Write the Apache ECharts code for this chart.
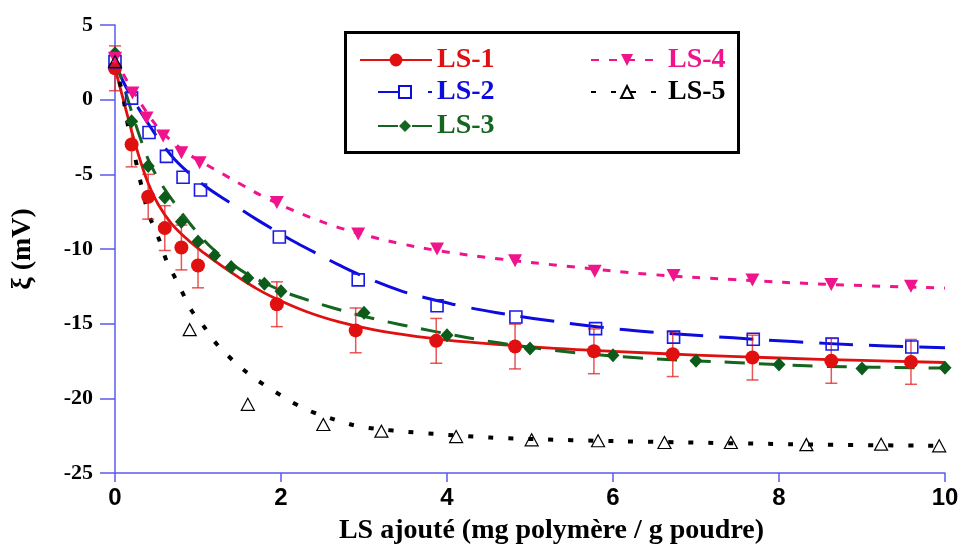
<!DOCTYPE html>
<html>
<head>
<meta charset="utf-8">
<script src="https://cdn.jsdelivr.net/npm/echarts@6/dist/echarts.min.js"></script>
<style>
  html, body { margin: 0; padding: 0; background: #fff; }
  #chart { width: 962px; height: 550px; }
</style>
</head>
<body>
<div id="chart"></div>
<script>
// ---- Measured points (zeta potential, mV) ----
const ls1X = [0, 0.2, 0.4, 0.6, 0.8, 1.0, 1.95, 2.9, 3.87, 4.82, 5.77, 6.72, 7.68, 8.63, 9.59];
const ls1Y = [2.1, -3.0, -6.5, -8.6, -9.9, -11.1, -13.7, -15.45, -16.15, -16.53, -16.85, -17.04, -17.27, -17.49, -17.56];
const ls1Err = [1.5, 1.5, 1.5, 1.5, 1.5, 1.5, 1.5, 1.5, 1.5, 1.5, 1.5, 1.5, 1.5, 1.5, 1.5];

const ls2X = [0, 0.2, 0.41, 0.62, 0.82, 1.03, 1.98, 2.93, 3.88, 4.83, 5.79, 6.73, 7.69, 8.64, 9.6];
const ls2Y = [2.55, 0.1, -2.2, -3.8, -5.2, -6.05, -9.2, -12.07, -13.8, -14.55, -15.33, -15.9, -16.04, -16.36, -16.56];

const ls3X = [0, 0.2, 0.4, 0.6, 0.8, 1.0, 1.2, 1.4, 1.6, 1.8, 2.0, 3.0, 4.0, 5.0, 6.0, 7.0, 8.0, 9.0, 10.0];
const ls3Y = [3.1, -1.45, -4.45, -6.55, -8.18, -9.5, -10.44, -11.2, -11.95, -12.33, -12.83, -14.27, -15.78, -16.67, -17.11, -17.49, -17.73, -18.0, -17.96];

const ls4X = [0, 0.21, 0.38, 0.58, 0.8, 1.02, 1.95, 2.93, 3.88, 4.82, 5.78, 6.73, 7.68, 8.63, 9.59];
const ls4Y = [2.78, 0.45, -1.22, -2.44, -3.56, -4.22, -6.89, -9.0, -10.0, -10.78, -11.49, -11.78, -12.07, -12.38, -12.49];

const ls5X = [0, 0.9, 1.6, 2.51, 3.21, 4.11, 5.02, 5.82, 6.62, 7.42, 8.33, 9.23, 9.93];
const ls5Y = [2.55, -15.4, -20.4, -21.75, -22.2, -22.56, -22.78, -22.84, -22.96, -22.96, -23.1, -23.07, -23.18];

// ---- Fitted curves ----
const fit1X = [0, 0.1, 0.2, 0.3, 0.4, 0.52, 0.68, 0.88, 1.08, 1.29, 1.49, 1.69, 1.91, 2.31, 2.71, 3.11, 3.5, 4.0, 4.64, 5.3, 6.0, 7.0, 8.0, 9.0, 10.0];
const fit1Y = [2.1, 0.0, -2.1, -4.0, -5.6, -7.0, -8.3, -9.4, -10.3, -11.15, -11.9, -12.6, -13.25, -14.2, -14.9, -15.4, -15.75, -16.1, -16.4, -16.65, -16.85, -17.1, -17.3, -17.46, -17.6];

const fit2X = [0, 0.1, 0.22, 0.4, 0.56, 0.72, 0.9, 1.1, 1.33, 1.53, 1.7, 1.91, 2.19, 2.5, 2.69, 3.0, 3.47, 3.92, 4.24, 4.64, 5.04, 5.8, 6.45, 7.45, 8.17, 8.95, 10];
const fit2Y = [2.5, 1.2, 0.0, -1.6, -2.9, -4.0, -4.95, -5.85, -6.7, -7.4, -8.0, -8.7, -9.6, -10.5, -11.05, -11.85, -12.85, -13.5, -13.9, -14.3, -14.65, -15.2, -15.55, -15.95, -16.2, -16.42, -16.62];

const fit3X = [0, 0.1, 0.2, 0.3, 0.4, 0.5, 0.6, 0.7, 0.84, 1.0, 1.18, 1.41, 1.6, 1.85, 2.03, 2.23, 2.63, 3.03, 3.43, 3.83, 4.64, 5.44, 6.33, 7.45, 8.49, 9.78, 10];
const fit3Y = [2.7, 1.0, -0.8, -2.5, -4.0, -5.1, -6.0, -6.8, -7.85, -8.95, -10.0, -11.0, -11.7, -12.4, -12.85, -13.25, -13.95, -14.55, -15.05, -15.5, -16.3, -16.88, -17.3, -17.6, -17.85, -17.96, -17.97];

const fit4X = [0, 0.1, 0.2, 0.34, 0.5, 0.6, 0.74, 0.9, 1.1, 1.3, 1.51, 1.81, 2.14, 2.37, 2.57, 2.75, 3.1, 3.43, 3.88, 4.64, 5.44, 6.45, 7.45, 8.65, 10];
const fit4Y = [2.8, 1.7, 0.75, -0.5, -1.75, -2.35, -3.05, -3.7, -4.35, -4.98, -5.65, -6.55, -7.4, -7.92, -8.33, -8.65, -9.2, -9.63, -10.1, -10.67, -11.15, -11.7, -12.05, -12.38, -12.62];

const fit5X = [0, 0.04, 0.1, 0.15, 0.26, 0.3, 0.4, 0.48, 0.56, 0.62, 0.72, 0.82, 0.92, 1.06, 1.2, 1.39, 1.59, 1.77, 1.97, 2.18, 2.37, 2.55, 2.75, 2.95, 3.35, 3.73, 4.32, 4.72, 5.5, 6.65, 8.65, 10];
const fit5Y = [2.5, 1.56, 0.1, -1.56, -4.33, -5.33, -7.56, -8.67, -9.78, -10.78, -11.89, -13.0, -14.1, -15.1, -16.2, -17.3, -18.27, -19.0, -19.7, -20.4, -20.9, -21.25, -21.6, -21.89, -22.16, -22.33, -22.56, -22.67, -22.8, -22.93, -23.11, -23.18];

// ---- Axes ----
const xTicks = [0, 2, 4, 6, 8, 10];
const yTicks = [-25, -20, -15, -10, -5, 0, 5];
const xTitle = 'LS ajouté (mg polymère / g poudre)';
const yTitle = 'ξ (mV)';

const zip = (xs, ys) => xs.map((x, i) => [x, ys[i]]);

const SERIF = '"Liberation Serif", "Times New Roman", Times, serif';
const NARROW = '"Liberation Sans Narrow", "Arial Narrow", "Liberation Sans", Arial, sans-serif';
const AXIS_BLUE = '#5a5af0';

const C1 = '#e01010', C2 = '#0c0cdc', C3 = '#13651f', C4 = '#f0148c', C5 = '#000000';
const DOWN_TRI = 'path://M0,0L12,0L6,11Z';

function fitLine(name, xs, ys, color, width, dash, symbol, symbolSize) {
  return {
    type: 'line', name, data: zip(xs, ys),
    smooth: 0.4,
    showSymbol: false, symbol, symbolSize,
    lineStyle: { color, width, type: dash, cap: 'butt', join: 'round' },
    itemStyle: { color },
    z: 2, silent: true
  };
}

function points(name, xs, ys, symbol, size, style) {
  return {
    type: 'scatter', name, data: zip(xs, ys),
    symbol, symbolSize: size, itemStyle: Object.assign({ opacity: 1 }, style), z: 4, silent: true
  };
}

function legendItem(name, left, top, w, h, color) {
  return {
    data: [name], left, top, padding: 0, itemWidth: w, itemHeight: h,
    selectedMode: false,
    textStyle: { color, fontFamily: SERIF, fontWeight: 'bold', fontSize: 28, lineHeight: 28 }
  };
}

const chart = echarts.init(document.getElementById('chart'), null, { renderer: 'canvas' });

chart.setOption({
  animation: false,
  backgroundColor: '#fff',
  grid: { left: 115, right: 17, top: 25, bottom: 74 },
  xAxis: {
    type: 'value', min: 0, max: 10, interval: 2,
    name: xTitle, nameLocation: 'middle', nameGap: 44,
    nameTextStyle: { fontFamily: SERIF, fontWeight: 'bold', fontSize: 28, color: '#000', padding: [0, 0, 0, 43] },
    axisLine: { show: true, onZero: false, lineStyle: { color: AXIS_BLUE, width: 1.5 } },
    axisTick: { show: true, length: 9, lineStyle: { color: AXIS_BLUE, width: 1.5 } },
    axisLabel: {
      margin: 13, color: '#000', fontFamily: NARROW, fontWeight: 'bold', fontSize: 24,
      formatter: v => (xTicks.includes(v) ? String(v) : '')
    },
    splitLine: { show: false }
  },
  yAxis: {
    type: 'value', min: -25, max: 5, interval: 5,
    name: yTitle, nameLocation: 'middle', nameGap: 78,
    nameTextStyle: { fontFamily: SERIF, fontWeight: 'bold', fontSize: 28, color: '#000' },
    axisLine: { show: true, onZero: false, lineStyle: { color: AXIS_BLUE, width: 1.5 } },
    axisTick: { show: true, length: 15, lineStyle: { color: AXIS_BLUE, width: 1.5 } },
    axisLabel: {
      margin: 22, color: '#000', fontFamily: SERIF, fontWeight: 'bold', fontSize: 22,
      formatter: v => (yTicks.includes(v) ? String(v) : '')
    },
    splitLine: { show: false }
  },
  legend: [
    legendItem('LS-1', 359, 46, 72, 16, C1),
    legendItem('LS-2', 377, 78, 54, 15, C2),
    legendItem('LS-3', 377, 112, 54, 15, C3),
    legendItem('LS-4', 590, 46, 72, 15, C4),
    legendItem('LS-5', 590, 78, 72, 15, C5)
  ],
  graphic: [{
    type: 'rect', left: 344, top: 31, z: -1,
    shape: { width: 393, height: 120 },
    style: { fill: '#fff', stroke: '#000', lineWidth: 3 }
  }],
  series: [
    fitLine('LS-1', fit1X, fit1Y, C1, 2.8, 'solid', 'circle', 14),
    fitLine('LS-2', fit2X, fit2Y, C2, 3, [34, 16], 'emptyRect', 12),
    fitLine('LS-3', fit3X, fit3Y, C3, 3, [20, 14], 'diamond', 12),
    fitLine('LS-4', fit4X, fit4Y, C4, 3, [8, 10], DOWN_TRI, 12),
    fitLine('LS-5', fit5X, fit5Y, C5, 4, [5, 15], 'emptyTriangle', 12),
    {
      type: 'custom', name: 'LS-1 error', silent: true, z: 3,
      data: ls1X.map((x, i) => [x, ls1Y[i] - ls1Err[i], ls1Y[i] + ls1Err[i]]),
      encode: { x: 0, y: [1, 2] },
      renderItem: function (params, api) {
        const x = api.value(0);
        const lo = api.coord([x, api.value(1)]);
        const hi = api.coord([x, api.value(2)]);
        const w = 6;
        const st = { stroke: 'rgba(226,30,30,0.75)', lineWidth: 1.5 };
        return {
          type: 'group',
          children: [
            { type: 'line', shape: { x1: lo[0], y1: lo[1], x2: hi[0], y2: hi[1] }, style: st },
            { type: 'line', shape: { x1: lo[0] - w, y1: lo[1], x2: lo[0] + w, y2: lo[1] }, style: st },
            { type: 'line', shape: { x1: hi[0] - w, y1: hi[1], x2: hi[0] + w, y2: hi[1] }, style: st }
          ]
        };
      }
    },
    points('LS-1', ls1X, ls1Y, 'circle', 14, { color: C1 }),
    points('LS-2', ls2X, ls2Y, 'rect', 12, { color: 'rgba(0,0,0,0)', borderColor: '#1a1ae8', borderWidth: 1.6 }),
    points('LS-3', ls3X, ls3Y, 'diamond', [13, 14], { color: '#0b5c1a' }),
    points('LS-4', ls4X, ls4Y, DOWN_TRI, [14, 13], { color: C4 }),
    points('LS-5', ls5X, ls5Y, 'triangle', [13, 12], { color: 'rgba(0,0,0,0)', borderColor: '#000', borderWidth: 1.2 })
  ]
});
</script>
</body>
</html>
